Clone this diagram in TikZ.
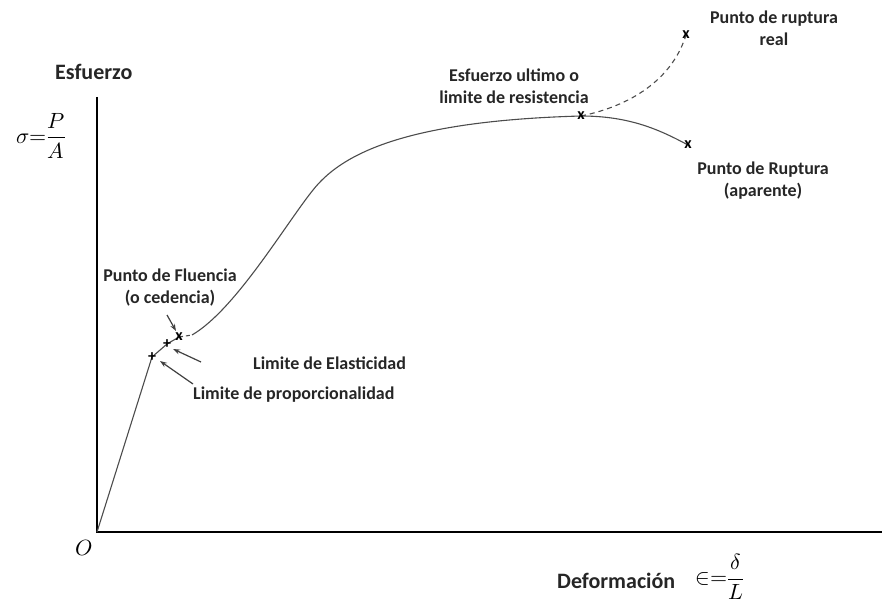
\documentclass[tikz,border=0pt]{standalone}
\usepackage{fontspec}
\setmainfont{Carlito}
\usepackage{unicode-math}
\setmathfont{Latin Modern Math}
\usetikzlibrary{arrows.meta}
\begin{document}
\begin{tikzpicture}[x=1pt,y=-1pt,
  lbl/.style={font=\bfseries\fontsize{18}{22}\selectfont, text=black!85, inner sep=0pt, align=center},
  axlbl/.style={font=\bfseries\fontsize{22}{26}\selectfont, text=black!85, inner sep=0pt},
  mathlbl/.style={font=\fontsize{22}{22}\selectfont, inner sep=0pt},
  mk/.style={font=\bfseries\fontsize{16}{16}\selectfont, inner sep=0pt},
  curve/.style={line width=1.1pt, draw=black!70},
  ptr/.style={line width=1.2pt, draw=black!75, -{Stealth[length=7pt,width=5pt]}}]
\useasboundingbox (0,0) rectangle (893,607);
% axes
\coordinate (O) at (97,532);
\coordinate (ytop) at (97,97);
\coordinate (xend) at (882,532);
\draw[line width=2.6pt] (ytop) -- (O) -- (xend);
\node[mathlbl] (olab) at (84,548) {$O$};
% axis labels
\node[axlbl, anchor=west] (esf) at (55,72) {Esfuerzo};
\node[mathlbl] (sig) at (41,136) {$\sigma\mathord{=}\dfrac{P}{A}$};
\node[axlbl, anchor=west] (def) at (557,581) {Deformación};
\node[mathlbl] (eps) at (720,577) {$\mathord{\in}\mathord{=}\dfrac{\delta}{L}$};
% key points
\coordinate (prop) at (152,357);
\coordinate (elas) at (167,344);
\coordinate (yld) at (179,337);
\coordinate (ult) at (581,116);
\coordinate (rapp) at (688,145);
\coordinate (rreal) at (686,35);
% curve
\draw[curve] (O) -- (prop) -- (elas) -- (yld);
\draw[curve, dash pattern=on 4pt off 3pt] (yld) -- (192,335);
\draw[curve] (192,335) .. controls (235,310) and (285,225) .. (313,190)
  .. controls (340,156) and (400,121) .. (ult)
  .. controls (630,116) and (660,130) .. (rapp);
\draw[curve, dash pattern=on 5pt off 4pt] (ult) .. controls (630,106) and (672,80) .. (rreal);
% markers
\node[mk] (mprop) at (prop) {+};
\node[mk] (melas) at (elas) {+};
\node[mk] (myld) at (yld) {x};
\node[mk] (mult) at (ult) {x};
\node[mk] (mrapp) at (rapp) {x};
\node[mk] (mreal) at (rreal) {x};
% labels
\node[lbl] (lfl) at (170,288) {Punto de Fluencia\\(o cedencia)};
\node[lbl, anchor=base west] (lel) at (253,369) {Limite de Elasticidad};
\node[lbl, anchor=base west] (lpr) at (193,399) {Limite de proporcionalidad};
\node[lbl] (lult) at (514,86) {Esfuerzo ultimo o\\limite de resistencia};
\node[lbl] (lreal) at (774,28) {Punto de ruptura\\real};
\node[lbl] (lapp) at (763,181) {Punto de Ruptura\\(aparente)};
% pointers
\coordinate (a1s) at (167,315);
\coordinate (a2s) at (201,362);
\coordinate (a3s) at (193,384);
\draw[ptr] (a1s) -- (176,331);
\draw[ptr] (a2s) -- (173,349);
\draw[ptr] (a3s) -- (160,361);
\end{tikzpicture}
\end{document}
